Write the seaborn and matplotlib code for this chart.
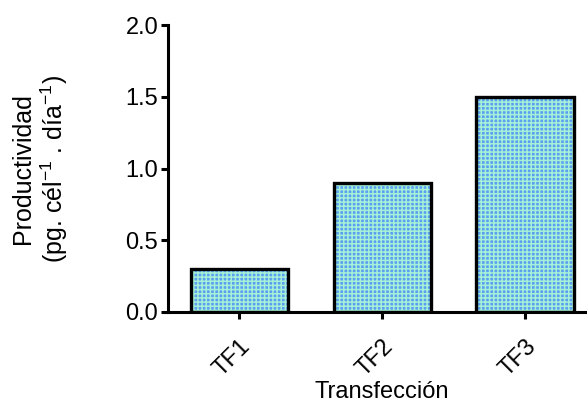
import matplotlib
matplotlib.use('Agg')
import matplotlib.pyplot as plt
import seaborn as sns
import pandas as pd

# datos
transfecciones = ['TF1', 'TF2', 'TF3']
productividad = [0.3, 0.9, 1.5]

df = pd.DataFrame({'transfeccion': transfecciones, 'productividad': productividad})

sns.set_theme(style='ticks')
plt.rcParams['font.family'] = ['Liberation Sans', 'DejaVu Sans']
plt.rcParams['hatch.linewidth'] = 1.1

fig = plt.figure(figsize=(5.87, 4.12), dpi=100)
ax = fig.add_axes([0.286, 0.243, 0.730, 0.696])

# relleno con patron
sns.barplot(data=df, x='transfeccion', y='productividad', color='#5a9ff0',
            saturation=1, width=0.68, ax=ax, linewidth=0)
for p in ax.patches:
    p.set_hatch('++++')
    p.set_edgecolor('#a6f0d8')

# contorno negro
sns.barplot(data=df, x='transfeccion', y='productividad', fill=False,
            width=0.68, ax=ax, edgecolor='black', linewidth=2.4)

ax.set_xlim(-0.5, 2.5)
ax.set_ylim(0, 2.0)
ax.set_yticks([0.0, 0.5, 1.0, 1.5, 2.0])
ax.set_yticklabels(['0.0', '0.5', '1.0', '1.5', '2.0'])

for s in ['top', 'right']:
    ax.spines[s].set_visible(False)
for s in ['left', 'bottom']:
    ax.spines[s].set_linewidth(2.2)
    ax.spines[s].set_color('black')

ax.tick_params(axis='both', width=2.2, length=5, color='black', labelsize=17,
               labelcolor='black', pad=2)
ax.tick_params(axis='x', pad=12)
plt.setp(ax.get_xticklabels(), rotation=45, ha='right', rotation_mode='anchor')

ax.set_xlabel('Transfección', fontsize=17, color='black', labelpad=0)
ax.set_ylabel('Productividad\n(pg. cél$^{\\mathregular{-1}}$ . día$^{\\mathregular{-1}}$)',
              fontsize=18, color='black', labelpad=40, linespacing=1.15)

fig.savefig('out.png', dpi=100)
